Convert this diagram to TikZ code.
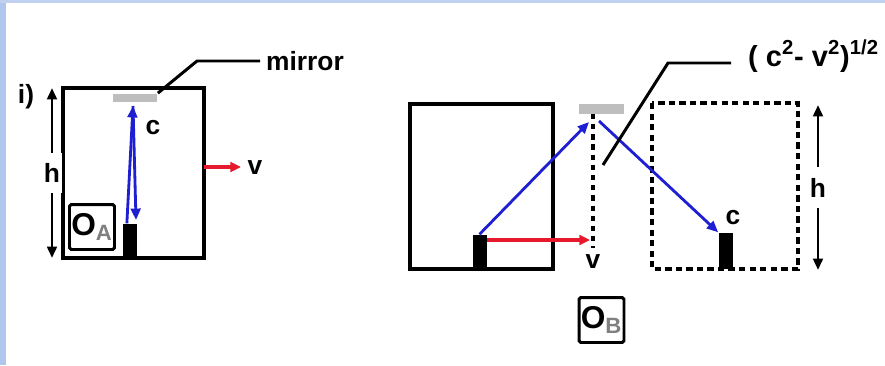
\documentclass[tikz,border=0pt]{standalone}
\usepackage{fontspec}
\setmainfont{Liberation Sans}
\usetikzlibrary{arrows.meta,positioning}
\definecolor{edgeblue}{RGB}{176,198,236}
\definecolor{raycol}{RGB}{30,30,210}
\definecolor{velred}{RGB}{230,25,45}
\definecolor{mirrorgray}{RGB}{190,190,190}
\tikzset{
    frame/.style={line width=2.2pt},
    ghost/.style={line width=2.2pt,dash pattern=on 3.6pt off 2.4pt},
    track/.style={line width=2.2pt,dash pattern=on 3pt off 2.8pt},
    lead/.style={line width=1.7pt},
    ray/.style={raycol,line width=1.6pt,-{Triangle[length=6.5pt,width=5.5pt]}},
    vel/.style={velred,line width=2pt,-{Triangle[length=6pt,width=5.5pt]}},
    dim/.style={line width=1.6pt,{Triangle[length=6.5pt,width=5.5pt]}-{Triangle[length=6.5pt,width=5.5pt]}},
    mirror/.style={fill=mirrorgray,inner sep=0pt,minimum width=0.9cm,minimum height=0.16cm},
    source/.style={fill=black,inner sep=0pt,minimum width=0.28cm,minimum height=0.68cm,anchor=south},
    obsbox/.style={draw,line width=1.7pt,rounded corners=1pt,minimum size=0.9cm,inner sep=0pt,font=\fontsize{18}{20}\selectfont\bfseries},
    gapl/.style={fill=white,inner xsep=1pt,inner ysep=6pt}
}
\begin{document}
\begin{tikzpicture}[x=0.02cm,y=-0.02cm,font=\fontsize{15}{18}\selectfont\bfseries]
    \useasboundingbox (0,0) rectangle (885,365);
    \fill[white] (0,0) rectangle (885,365);
    \fill[edgeblue] (0,0) rectangle (6,365);
    \fill[edgeblue!80] (0,0) rectangle (885,3);

    \draw[frame] (63,88) rectangle (204,258);
    \node[mirror] (mirA) at (135,97.5) {};
    \node[source] (srcA) at (129.5,258) {};
    \coordinate (hitA) at (133,106);
    \coordinate (backA) at (136,220);
    \draw[ray] ([xshift=-1.5pt]srcA.north) -- (hitA);
    \draw[ray] (hitA) -- (backA);
    \node (cA) at (153,128) {c};
    \coordinate (velA) at (241,167);
    \draw[vel] (204,167) -- (velA);
    \node (vA) at (255,168) {v};
    \draw[dim] (52,88) -- (52,258) node[midway,gapl] (hA) {h};
    \node[obsbox] (obsA) at (92,227) {O\textsubscript{\color{gray}A}};
    \node (iA) at (26,97) {i)};
    \node[anchor=west] (mirlbl) at (260,61) {mirror};
    \draw[lead] (mirA.north east) -- (197,61) -- (mirlbl.west);

    \draw[frame] (410,104) rectangle (553,269);
    \draw[ghost] (652,103) rectangle (798,269);
    \node[mirror,minimum height=0.2cm] (mirB) at (601.5,108.5) {};
    \node[source] (srcB) at (479.5,269) {};
    \node[source,minimum height=0.72cm] (srcC) at (725.5,269) {};
    \coordinate (hitB) at (589,122);
    \coordinate (leaveB) at (599,121);
    \coordinate (footB) at (593,248);
    \draw[track] (mirB.south -| footB) -- (footB);
    \draw[ray] (srcB.north) -- (hitB);
    \draw[ray] (leaveB) -- (srcC.north west);
    \coordinate (velB) at (590,240);
    \draw[vel] (srcB.east |- velB) -- (velB);
    \node (vB) at (593,262) {v};
    \node (cB) at (733,218) {c};
    \draw[dim] (818,105) -- (818,270) node[midway,gapl] (hB) {h};
    \node[anchor=base west,font=\fontsize{16.5}{18}\selectfont\bfseries] (rootlbl) at (742,66) {( c\textsuperscript{2}- v\textsuperscript{2})\textsuperscript{1/2}};
    \coordinate (rootfoot) at (603,165);
    \coordinate (rootend) at (731,63);
    \draw[lead] (rootfoot) -- (668,63) -- (rootend);
    \node[obsbox] (obsB) at (601.5,320) {O\textsubscript{\color{gray}B}};
\end{tikzpicture}
\end{document}
